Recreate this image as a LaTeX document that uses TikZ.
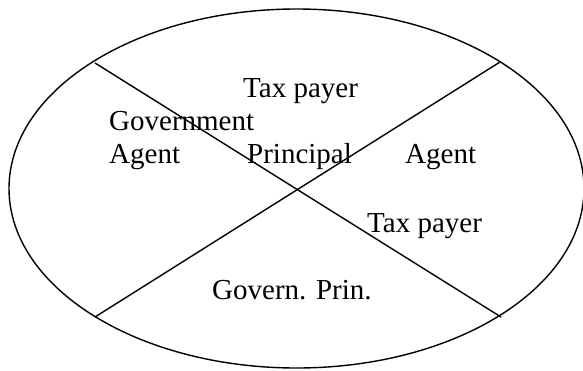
\documentclass[tikz,border=0pt]{standalone}
\usepackage{fontspec}
\setmainfont{Liberation Serif}
\begin{document}
\begin{tikzpicture}[x=1pt,y=-1pt,
  lbl/.style={anchor=base west,inner sep=0pt,font=\fontsize{29}{33}\selectfont},
  edge/.style={line width=1.4pt}]
\useasboundingbox (0,0) rectangle (583,370);
\draw[edge] (296.5,188.5) ellipse [x radius=287.5, y radius=179.5];
\coordinate (tl) at (95,63);
\coordinate (br) at (501,317);
\coordinate (bl) at (95,317);
\coordinate (tr) at (500,62);
\draw[edge] (tl) -- (br);
\draw[edge] (bl) -- (tr);
\node[lbl] (tp1) at (243,97) {Tax payer};
\node[lbl] (gov) at (109,130) {Government};
\node[lbl] (ag1) at (109,163) {Agent};
\node[lbl] (pr) at (247,163) {Principal};
\node[lbl] (ag2) at (405,163) {Agent};
\node[lbl] (tp2) at (367,232) {Tax payer};
\node[lbl] (gp) at (212,299) {Govern. Prin.};
\end{tikzpicture}
\end{document}
